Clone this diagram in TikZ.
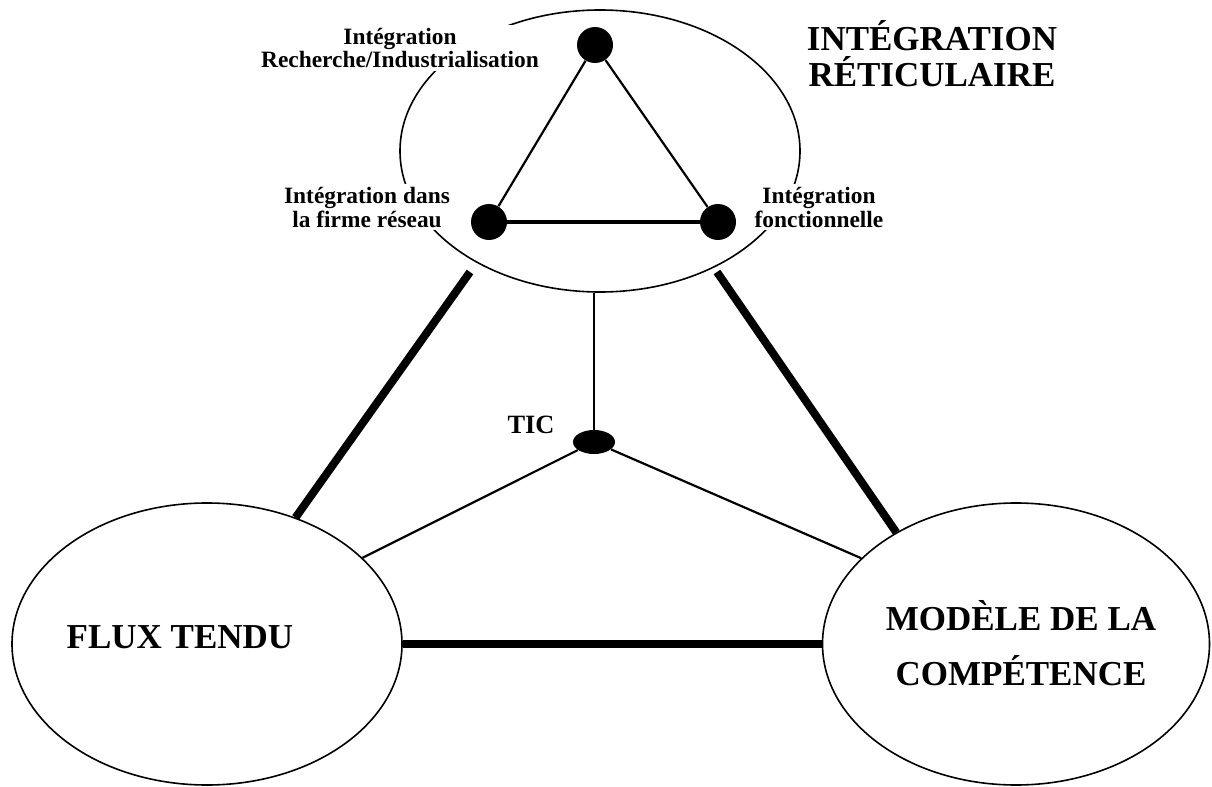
\documentclass[tikz,border=0pt]{standalone}
\usepackage{fontspec}
\setmainfont{Liberation Serif}
\usetikzlibrary{shapes.geometric}
\begin{document}
\begin{tikzpicture}[x=0.5pt,y=-0.5pt,
  bubble/.style={draw, ellipse, line width=0.8pt, inner sep=0pt},
  dot/.style={circle, fill, inner sep=0pt, minimum size=18pt},
  tag/.style={font=\bfseries\fontsize{11.7}{12}\selectfont, align=center, fill=white, inner sep=1.5pt},
  title/.style={font=\bfseries\fontsize{17.5}{18}\selectfont, align=center, inner sep=0pt},
  link/.style={line width=1.1pt},
  strong/.style={line width=4pt},
]
\useasboundingbox (0,0) rectangle (1212,787);
\fill[white] (0,0) rectangle (1212,787);

% the three poles
\node[bubble, minimum width=200pt, minimum height=141pt] (top) at (600,151) {};
\node[bubble, minimum width=195pt, minimum height=141pt] (flux) at (207,644) {};
\node[bubble, minimum width=193.5pt, minimum height=141pt] (model) at (1016,644) {};

% titles (base = baseline of the last line)
\node[title, anchor=base] (tflux) at (180,648) {FLUX TENDU};
\node[title, anchor=base, font=\bfseries\fontsize{17.5}{27.5}\selectfont] (tmodel) at (1021,685) {MODÈLE DE LA\\COMPÉTENCE};
\node[title, anchor=base] (tinteg) at (932,86) {INTÉGRATION\\RÉTICULAIRE};

% labels of the inner triangle
\node[tag, anchor=base] (lrech) at (400,68) {Intégration\\Recherche/Industrialisation};
\node[tag, anchor=base] (lfirm) at (367,227) {Intégration dans\\la firme réseau};
\node[tag, anchor=base] (lfonc) at (819,227) {Intégration\\fonctionnelle};

% links between the poles
\coordinate (fa) at (470,272);
\coordinate (ma) at (717,272);
\draw[strong] (fa) -- (flux.55);
\draw[strong] (ma) -- (model.137);
\draw[strong] (flux.east) -- (model.west);

% TIC hub
\node[ellipse, fill, inner sep=0pt, minimum width=21pt, minimum height=12pt] (tic) at (594,442) {};
\node[font=\bfseries\fontsize{13.2}{14}\selectfont, anchor=base, inner sep=0pt] (ltic) at (531,433) {TIC};
\draw[link] (tic.north |- top.south) -- (tic);
\draw[link] (tic) -- (flux.29);
\draw[link] (tic) -- (model.151);

% inner triangle
\node[dot] (dt) at (595,45) {};
\node[dot] (dl) at (489,222) {};
\node[dot] (dr) at (718,222) {};
\draw[link] (dt) -- (dl);
\draw[link] (dt) -- (dr);
\draw[line width=1.6pt] (dl) -- (dr);
\end{tikzpicture}
\end{document}
